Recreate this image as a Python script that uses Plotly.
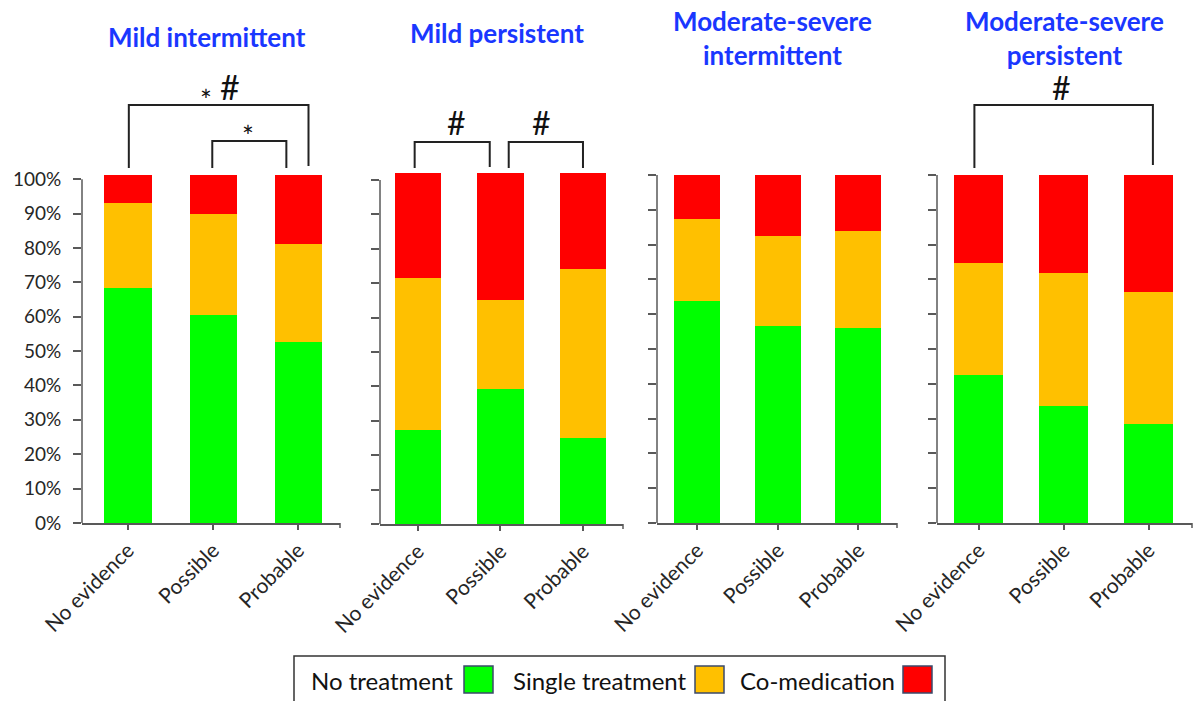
import plotly.graph_objects as go

# ---------------- data ----------------
categories = ["No evidence", "Possible", "Probable"]
panel_titles = ["Mild intermittent", "Mild persistent",
                "Moderate-severe<br>intermittent", "Moderate-severe<br>persistent"]
series_names = ["No treatment", "Single treatment", "Co-medication"]
series_colors = ["#00FF00", "#FFC000", "#FF0000"]

mild_int_none = [68.2, 60.5, 52.7]
mild_int_single = [25.0, 29.4, 28.3]
mild_int_comed = [8.0, 11.3, 20.2]

mild_per_none = [27.3, 39.2, 25.0]
mild_per_single = [44.2, 25.8, 49.1]
mild_per_comed = [30.4, 36.9, 27.8]

modsev_int_none = [63.8, 56.5, 56.1]
modsev_int_single = [23.5, 26.1, 27.7]
modsev_int_comed = [12.7, 17.4, 16.2]

modsev_per_none = [42.6, 33.5, 28.4]
modsev_per_single = [32.0, 38.4, 38.0]
modsev_per_comed = [25.4, 28.1, 33.6]

y_ticks = [0, 10, 20, 30, 40, 50, 60, 70, 80, 90, 100]
y_tick_labels = ["0%", "10%", "20%", "30%", "40%", "50%", "60%", "70%", "80%", "90%", "100%"]

panels = [
    [mild_int_none, mild_int_single, mild_int_comed],
    [mild_per_none, mild_per_single, mild_per_comed],
    [modsev_int_none, modsev_int_single, modsev_int_comed],
    [modsev_per_none, modsev_per_single, modsev_per_comed],
]

# ---------------- layout geometry (pixels) ----------------
W, H = 1193, 701
def px(x):
    return x / W
def py(y):
    return 1 - y / H

x_dom_px = [(82, 340), (380, 623), (657, 897), (937, 1192)]
x_ranges = [(-0.54, 2.49), (-0.46, 2.485), (-0.5, 2.48), (-0.49, 2.51)]
bar_widths = [0.555, 0.56, 0.57, 0.58]
y_dom_px = [(523, 175), (524, 173), (523, 175), (523, 175)]
y_top = [101.2, 102, 100, 100]

FONT = "Lato"
AXC = "#595959"
TXT = "#262626"
TITLE_C = "#1A37FF"

fig = go.Figure()
layout = dict(
    width=W, height=H, margin=dict(l=0, r=0, t=0, b=0, autoexpand=False),
    paper_bgcolor="white", plot_bgcolor="white",
    barmode="stack", showlegend=False,
    font=dict(family=FONT, color=TXT),
)

shapes = []
annotations = []

for i, series in enumerate(panels):
    n = "" if i == 0 else str(i + 1)
    for name, vals, col in zip(series_names, series, series_colors):
        fig.add_trace(go.Bar(
            x=categories, y=vals, name=name, marker_color=col,
            width=[bar_widths[i]] * len(categories),
            marker_line_width=0, xaxis="x" + n, yaxis="y" + n,
            showlegend=False,
        ))
    layout["xaxis" + n] = dict(
        domain=[px(x_dom_px[i][0]), px(x_dom_px[i][1])],
        anchor="y" + n, range=list(x_ranges[i]), type="category", automargin=False,
        showline=True, linecolor=AXC, linewidth=1.5,
        ticks="outside", ticklen=5, tickcolor=AXC, tickwidth=1.5,
        tickangle=-45, tickfont=dict(family=FONT, size=21, color=TXT),
        showgrid=False, zeroline=False, fixedrange=True,
    )
    layout["yaxis" + n] = dict(
        domain=[py(y_dom_px[i][0]), py(y_dom_px[i][1])],
        anchor="x" + n, range=[0, y_top[i]], automargin=False,
        tickvals=y_ticks, ticktext=y_tick_labels,
        showticklabels=(i == 0), ticklabelstandoff=8,
        ticks="outside", ticklen=8, tickcolor=AXC, tickwidth=1.5,
        tickfont=dict(family=FONT, size=19, color=TXT),
        showline=False, showgrid=False, zeroline=False, fixedrange=True,
    )
    # y axis line from 0 to 100%
    shapes.append(dict(type="line", xref="x" + n + " domain", yref="y" + n,
                       x0=0, x1=0, y0=0, y1=100,
                       line=dict(color=AXC, width=1.5)))
    # end tick of x axis
    shapes.append(dict(type="line", xref="paper", yref="paper",
                       x0=px(x_dom_px[i][1]), x1=px(x_dom_px[i][1]),
                       y0=py(y_dom_px[i][0]), y1=py(y_dom_px[i][0] + 5),
                       line=dict(color=AXC, width=1.5)))

# panel titles (centre x px, centre y px)
title_pos = [(207, 37), (497, 33), (772, 38), (1064, 38)]
for t, (tx, ty) in zip(panel_titles, title_pos):
    annotations.append(dict(text="<b>" + t + "</b>", xref="paper", yref="paper",
                            x=px(tx), y=py(ty), xanchor="center", yanchor="middle",
                            showarrow=False,
                            font=dict(family=FONT, size=26, color=TITLE_C)))

# significance brackets: (panel, x0, x1, top_px, bottom_left_px, bottom_right_px)
brackets = [
    (0, 0.01, 2.12, 105, 168, 166),
    (0, 0.99, 1.86, 141, 168, 168),
    (1, -0.04, 0.87, 142, 168, 167),
    (1, 1.10, 2.00, 142, 168, 168),
    (3, -0.05, 2.05, 105, 168, 165),
]
for p, x0, x1, yt, yb0, yb1 in brackets:
    n = "" if p == 0 else str(p + 1)
    path = (f"M {x0},{py(yb0)} L {x0},{py(yt)} L {x1},{py(yt)} L {x1},{py(yb1)}")
    shapes.append(dict(type="path", xref="x" + n, yref="paper", path=path,
                       line=dict(color="#222222", width=2)))

# significance markers: (panel, text, x_data, y_px_centre, size)
markers = [
    (0, "*", 0.92, 100, 28),
    (0, "#", 1.20, 86, 34),
    (0, "*", 1.41, 136, 28),
    (1, "#", 0.47, 123, 32),
    (1, "#", 1.50, 123, 32),
    (3, "#", 0.98, 88, 32),
]
for p, t, x, y, s in markers:
    n = "" if p == 0 else str(p + 1)
    annotations.append(dict(text=t, xref="x" + n, yref="paper", x=x, y=py(y),
                            xanchor="center", yanchor="middle", showarrow=False,
                            font=dict(family=FONT, size=s, color="#111111")))

# custom legend (label, then colour box)
shapes.append(dict(type="rect", xref="paper", yref="paper",
                   x0=px(294), x1=px(945), y0=py(720), y1=py(656),
                   line=dict(color="#333333", width=1.5), fillcolor="rgba(0,0,0,0)"))
legend_px = [(455, 464, 493), (689, 695, 724), (897, 903, 932)]
for name, col, (tx, b0, b1) in zip(series_names, series_colors, legend_px):
    annotations.append(dict(text=name, xref="paper", yref="paper",
                            x=px(tx), y=py(680), xanchor="right", yanchor="middle",
                            showarrow=False,
                            font=dict(family=FONT, size=24, color="#111111")))
    shapes.append(dict(type="rect", xref="paper", yref="paper",
                       x0=px(b0), x1=px(b1), y0=py(693), y1=py(666),
                       fillcolor=col, line=dict(color="#3B4A6B", width=1.5)))

layout["shapes"] = shapes
layout["annotations"] = annotations
fig.update_layout(**layout)

fig.write_html("out.html", config={"displayModeBar": False},
               post_script="document.body.style.margin='0';"
                           "document.body.style.overflow='hidden';")
